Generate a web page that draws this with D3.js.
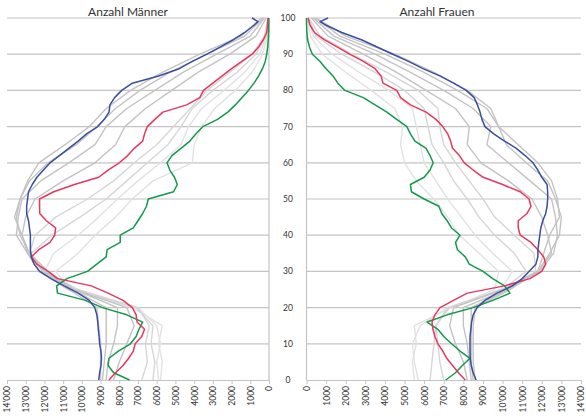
<!DOCTYPE html>
<html><head><meta charset="utf-8">
<script src="https://cdn.jsdelivr.net/npm/d3@7"></script>
<style>body{margin:0;background:#fff}svg{display:block}</style>
</head><body>
<svg id="c" width="586" height="418"></svg>
<script>
// ---- DATA ----
const ages2 = [0,2,4,6,8,10,12,14,16,18,20,22,24,26,28,30,32,34,36,38,40,42,44,46,48,50,52,54,56,58,60,62,64,66,68,70,72,74,76,78,80,82,84,86,88,90,92,94,96,98,100];
const agesBlue = [0,2,4,6,8,10,12,14,16,18,20,22,24,26,28,30,32,34,36,38,40,42,44,46,48,50,52,54,56,58,60,62,64,66,68,70,72,74,76,78,80,82,84,86,88,90,92,94,96,98,99,100];
const ages5 = [0,5,10,15,20,25,30,35,40,45,50,55,60,65,70,75,80,85,90,95,100];
const xTicks = [0,1000,2000,3000,4000,5000,6000,7000,8000,9000,10000,11000,12000,13000,14000];
const yTicks = [0,10,20,30,40,50,60,70,80,90,100];

// Männer
const menBlue = [9100,9050,8980,8950,8980,9050,9080,9120,9150,9200,9310,9600,10200,10950,11650,12250,12550,12700,12750,12750,12750,12800,12850,12950,12950,12900,12850,12650,12400,12050,11700,11200,10700,10200,9750,9150,8800,8550,8500,8250,7870,7300,5900,4800,4100,3320,2600,1900,1300,800,590,910];
const menRed = [8550,8200,7800,7500,7250,7150,6800,6650,7050,7100,7300,7800,8600,9500,11300,11800,12400,12700,12300,11700,11450,11400,11900,12250,12260,12260,11500,10400,9100,8600,8000,7550,7200,6750,6650,6500,6100,5670,4400,3700,3500,3000,2500,2000,1450,900,550,300,120,80,60];
const menGreen = [7450,8300,8600,8550,8050,7400,7100,6950,6750,7600,8900,9800,11300,11350,10800,9700,9200,8700,8650,7950,7950,7250,7000,6750,6550,6450,5100,4900,5050,5300,5450,5190,4700,4230,3900,3530,2750,2200,1800,1450,1100,800,550,350,200,120,70,40,20,10,5];
const menGrayL1 = [5800,5700,5900,5700,7300,10600,11400,10200,9300,8200,7300,6200,4100,4000,3600,2900,1800,900,350,80,20];
const menGrayL2 = [5900,6000,5800,6000,7000,10800,12000,11500,10200,9100,8100,7000,5800,4700,4300,3600,2400,1300,500,120,30];
const menGrayL3 = [6200,6100,6300,6200,7100,10400,12300,12700,11600,10100,8700,7600,6500,5400,4700,4100,3000,1700,700,180,40];
const menGrayL4 = [6800,6500,6600,6400,7000,10200,12000,12800,12500,11400,9700,8300,7200,6000,5100,4200,3300,2100,900,250,50];
const menGrayD1 = [8300,8000,7600,7200,7600,10400,11800,12800,13200,13000,12500,11000,9300,8200,7700,6600,5200,3800,2100,700,150];
const menGrayD2 = [8700,8600,8300,8100,8100,10400,12000,12900,13500,13400,13200,12200,10700,9300,8700,7600,6100,4600,2800,1000,250];
const menGrayD3 = [8900,8800,8700,8700,8700,10500,12100,12800,13300,13500,13300,12800,11800,10300,9200,8200,6900,5300,3300,1300,300];
const menGrayD4 = [9000,9000,9000,9100,9200,10700,12300,12900,13200,13600,13300,12900,12300,10900,9600,8700,7400,5700,3700,1500,400];

// Frauen
const womenBlue = [8650,8500,8400,8350,8340,8340,8340,8380,8420,8500,8700,9100,9720,10500,11000,11350,11700,11800,11800,11850,11900,11950,12050,12200,12270,12300,12300,12270,12000,11800,11550,11150,10700,10100,9550,9100,8950,8850,8720,8550,8150,7500,6800,5940,5200,4400,3600,2800,1800,1000,690,1100];
const womenRed = [8100,7750,7450,7150,6950,6700,6550,6450,6400,6550,6810,7500,8200,10100,11400,12000,12200,12100,11800,11450,10900,10800,10800,11250,11450,11350,10900,10000,9010,8500,8050,7800,7450,7350,7200,6950,6600,6100,5300,4800,4600,3900,3800,3500,2900,2200,1560,900,400,180,80];
const womenGreen = [7100,7600,7950,8340,7830,7400,7000,6700,6150,7170,8500,9500,10380,10100,9500,9000,8300,8100,7700,7600,7830,7400,7170,6900,6750,6000,5350,5300,6000,6300,6460,6300,6100,5530,5300,5120,4600,4100,3500,2900,1960,1600,1350,1000,690,300,150,60,20,5,0];
const womenGrayL1 = [5500,5400,5600,5500,7400,9600,9800,8800,7800,7200,6500,5600,5000,4800,4900,4500,3300,2000,800,200,40];
const womenGrayL2 = [5700,5500,5400,5800,7200,9900,10500,9500,8600,7900,7200,6600,6000,5800,5600,5400,4200,2700,1300,350,60];
const womenGrayL3 = [6300,6400,6500,6600,7300,10000,11200,10600,9600,8800,8200,7500,7000,6400,6200,6000,5000,3500,1800,500,90];
const womenGrayL4 = [7000,6800,6700,6600,7200,10100,11700,11600,10600,9600,9000,8300,7600,7000,6800,6700,5700,4100,2300,700,130];
const womenGrayD1 = [8200,8000,7600,7300,7500,10000,11800,12500,12300,12000,11500,10300,8900,8200,8300,7600,6100,4600,2900,1100,250];
const womenGrayD2 = [8400,8300,8200,8000,8000,10200,11900,12600,12800,12700,12500,11400,10300,9200,9400,8500,7000,5300,3500,1400,350];
const womenGrayD3 = [8500,8400,8400,8400,8400,10300,11800,12400,12900,13000,12700,12300,11200,10200,9800,9200,7700,6000,4000,1700,450];
const womenGrayD4 = [8600,8500,8500,8500,8600,10400,11800,12100,12400,12900,12800,12500,11800,10800,9800,9400,8200,6500,4500,2000,500];

// ---- DRAW ----
const svg = d3.select("#c");
const font = "Lato, 'Open Sans', Arial, sans-serif";
const y = d3.scaleLinear().domain([0,100]).range([380,18]);
const xL = d3.scaleLinear().domain([0,14000]).range([269,7]);
const xR = d3.scaleLinear().domain([0,14000]).range([306.5,581]);

const fmt = v => v >= 10000 ? d3.format(",")(v).replace(",", "'") : String(v);

function panel(x, axisX, title, titleX, series) {
  const g = svg.append("g");
  const [x0, x1] = d3.extent(x.range());
  g.selectAll(".grid").data(yTicks.filter(t => t > 0)).join("line")
    .attr("x1", x0).attr("x2", x1)
    .attr("y1", d => y(d)).attr("y2", d => y(d))
    .attr("stroke", "#c4c4c4").attr("stroke-width", 1.2);
  const ax = g.append("g").attr("transform", `translate(0,${y(0)})`)
    .call(d3.axisBottom(x).tickValues(xTicks).tickFormat(fmt).tickSize(4).tickSizeOuter(0));
  ax.select(".domain").attr("stroke", "#c4c4c4").attr("stroke-width", 1.2);
  ax.selectAll(".tick line").attr("stroke", "#c4c4c4");
  ax.selectAll(".tick text")
    .attr("transform", "rotate(-90)")
    .attr("text-anchor", "end")
    .attr("x", -6).attr("y", 0).attr("dy", "0.35em")
    .attr("fill", "#333").style("font-size", "8.5px").style("font-family", font);
  g.append("line").attr("x1", axisX).attr("x2", axisX).attr("y1", y(100)).attr("y2", y(0))
    .attr("stroke", "#c4c4c4").attr("stroke-width", 1.2);
  g.append("text").attr("x", titleX).attr("y", 16).attr("text-anchor", "middle")
    .attr("fill", "#333").style("font-size", "12px").style("font-family", font).text(title);
  series.forEach(s => {
    const line = d3.line().x(d => x(d[1])).y(d => y(d[0]));
    g.append("path").datum(s.ages.map((a, i) => [a, s.values[i]]))
      .attr("d", line).attr("fill", "none")
      .attr("stroke", s.color).attr("stroke-width", s.w || 1.4)
      .attr("stroke-linejoin", "round");
  });
}

const cL1 = "#e2e2e2", cL2 = "#d6d6d6", cD = "#c3c3c3";
panel(xL, 269, "Anzahl Männer", 128, [
  {ages: ages5, values: menGrayL1, color: cL1},
  {ages: ages5, values: menGrayL2, color: cL1},
  {ages: ages5, values: menGrayL3, color: cL2},
  {ages: ages5, values: menGrayL4, color: cL2},
  {ages: ages5, values: menGrayD1, color: cD},
  {ages: ages5, values: menGrayD2, color: cD},
  {ages: ages5, values: menGrayD3, color: cD},
  {ages: ages5, values: menGrayD4, color: cD},
  {ages: ages2, values: menGreen, color: "#13994a", w: 1.5},
  {ages: ages2, values: menRed, color: "#e8375e", w: 1.5},
  {ages: agesBlue, values: menBlue, color: "#3a4fa0", w: 1.5}
]);
panel(xR, 306.5, "Anzahl Frauen", 437, [
  {ages: ages5, values: womenGrayL1, color: cL1},
  {ages: ages5, values: womenGrayL2, color: cL1},
  {ages: ages5, values: womenGrayL3, color: cL2},
  {ages: ages5, values: womenGrayL4, color: cL2},
  {ages: ages5, values: womenGrayD1, color: cD},
  {ages: ages5, values: womenGrayD2, color: cD},
  {ages: ages5, values: womenGrayD3, color: cD},
  {ages: ages5, values: womenGrayD4, color: cD},
  {ages: ages2, values: womenGreen, color: "#13994a", w: 1.5},
  {ages: ages2, values: womenRed, color: "#e8375e", w: 1.5},
  {ages: agesBlue, values: womenBlue, color: "#3a4fa0", w: 1.5}
]);

svg.append("g").selectAll("text").data(yTicks).join("text")
  .attr("x", 288).attr("y", d => y(d)).attr("dy", "0.35em").attr("text-anchor", "middle")
  .attr("fill", "#333").style("font-size", "8.5px").style("font-family", font).text(d => d);
</script>
</body></html>
